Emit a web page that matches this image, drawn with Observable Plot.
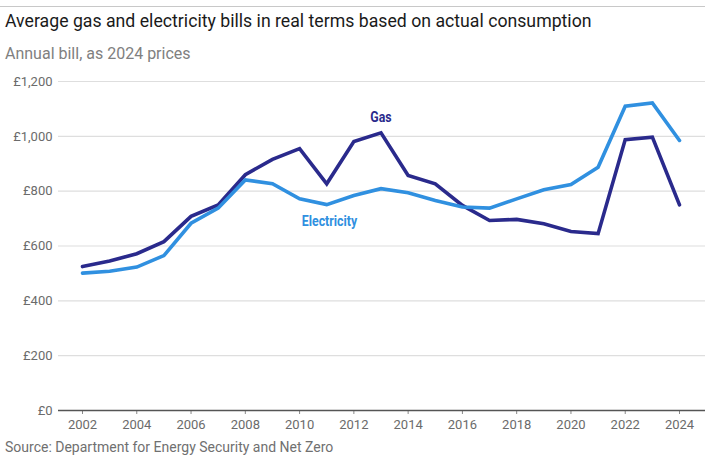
<!DOCTYPE html>
<html>
<head>
<meta charset="utf-8">
<script src="https://cdn.jsdelivr.net/npm/d3@7"></script>
<script src="https://cdn.jsdelivr.net/npm/@observablehq/plot@0.6"></script>
<style>
  html, body { margin: 0; padding: 0; background: #fff; width: 705px; height: 457px; overflow: hidden; }
  #wrap { position: relative; width: 705px; height: 457px; }
  #rule { position: absolute; left: 0; top: 6px; width: 705px; height: 0; border-top: 1px solid #c8c8c8; }
  #title { position: absolute; left: 5px; top: 10px; font-family: Roboto, "Noto Sans", sans-serif; font-size: 17.7px; line-height: 22px; color: #1a1a1a; white-space: nowrap; }
  #subtitle { position: absolute; left: 5px; top: 44px; font-family: Roboto, "Noto Sans", sans-serif; font-size: 16px; line-height: 20px; color: #808080; white-space: nowrap; }
  #chart { position: absolute; left: 0; top: 68px; }
  #source { position: absolute; left: 5px; top: 438px; font-family: Roboto, "Noto Sans", sans-serif; font-size: 14px; line-height: 18px; color: #707070; white-space: nowrap; }
</style>
</head>
<body>
<div id="wrap">
  <div id="rule"></div>
  <div id="title">Average gas and electricity bills in real terms based on actual consumption</div>
  <div id="subtitle">Annual bill, as 2024 prices</div>
  <div id="chart"></div>
  <div id="source">Source: Department for Energy Security and Net Zero</div>
</div>
<script>
const years = [2002,2003,2004,2005,2006,2007,2008,2009,2010,2011,2012,2013,2014,2015,2016,2017,2018,2019,2020,2021,2022,2023,2024];
const gas = [525,545,572,616,708,750,860,916,955,827,981,1013,857,827,748,693,697,681,653,645,988,997,750];
const electricity = [501,508,523,565,683,738,841,827,772,751,784,809,794,766,742,738,772,805,824,887,1110,1122,985];
const yTicks = [0,200,400,600,800,1000,1200];
const xTicks = [2002,2004,2006,2008,2010,2012,2014,2016,2018,2020,2022,2024];
const seriesNames = ["Gas","Electricity"];
const labelYears = [2013, 2011.1];
const labelValues = [1069, 689];

const gasColor = "#2a2a8c";
const elecColor = "#3090e0";
const condensed = 'Roboto, "Noto Sans", sans-serif';

const rows = [];
years.forEach((y, i) => {
  rows.push({year: y, value: gas[i], series: "Gas"});
  rows.push({year: y, value: electricity[i], series: "Electricity"});
});
const labels = seriesNames.map((s, i) => ({series: s, year: labelYears[i], value: labelValues[i]}));

const fmt = v => "£" + d3.format(",")(v);

const chart = Plot.plot({
  width: 705,
  height: 375,
  marginLeft: 58,
  marginRight: 0,
  marginTop: 13,
  marginBottom: 33,
  style: {fontFamily: condensed, fontSize: "13px", color: "#666", background: "#fff"},
  x: {domain: [2001.1156, 2024.958], ticks: xTicks, tickFormat: d => String(d), tickSize: 4, tickPadding: 5, label: null},
  y: {domain: [0, 1200], ticks: yTicks, tickFormat: fmt, tickSize: 0, tickPadding: 6, label: null},
  color: {domain: seriesNames, range: [gasColor, elecColor]},
  marks: [
    Plot.gridY(yTicks.filter(d => d > 0), {stroke: "#dedede", strokeOpacity: 1, strokeWidth: 1.2}),
    Plot.axisY({ticks: yTicks, tickFormat: fmt, tickSize: 0, tickPadding: 6, fill: "#6b6b6b", fontSize: 13}),
    Plot.axisX({ticks: xTicks, tickFormat: d => String(d), tickSize: 4, tickPadding: 5, fill: "#6b6b6b", stroke: "#888", fontSize: 13}),
    Plot.ruleY([0], {stroke: "#555", strokeWidth: 1.5}),
    Plot.line(rows, {x: "year", y: "value", z: "series", stroke: "series", strokeWidth: 3.6, strokeLinejoin: "miter", strokeMiterlimit: 4}),
    Plot.text(labels, {x: "year", y: "value", text: "series", fill: "series", fontWeight: "bold", fontSize: 14.5, fontFamily: condensed, className: "serieslabel"})
  ]
});
document.getElementById("chart").appendChild(chart);
// condense the series labels horizontally (the reference uses a condensed bold face)
chart.querySelectorAll(".serieslabel text").forEach(t => {
  const w = t.getComputedTextLength();
  t.setAttribute("textLength", (w * 0.85).toFixed(1));
  t.setAttribute("lengthAdjust", "spacingAndGlyphs");
});
</script>
</body>
</html>
